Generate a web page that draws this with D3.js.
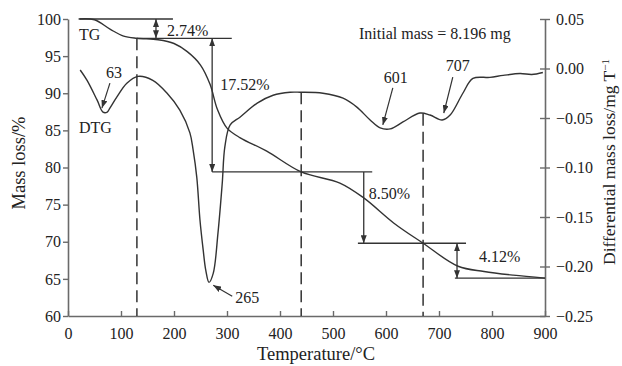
<!DOCTYPE html>
<html>
<head>
<meta charset="utf-8">
<script src="https://cdn.jsdelivr.net/npm/d3@7"></script>
<style>
  body { margin: 0; background: #fff; }
  svg text { font-family: "Liberation Serif", "DejaVu Serif", serif; fill: #222; }
</style>
</head>
<body>
<svg id="chart" width="622" height="366"></svg>
<script>
// TG curve: temperature (°C) vs mass loss (%)
var tgTemp = [20, 50, 80, 105, 130, 170, 200, 225, 250, 268, 282, 300, 325, 375, 440, 513, 558, 615, 670, 736, 785, 840, 900];
var tgMass = [100, 99.9, 98.6, 97.7, 97.4, 97.2, 96.7, 95.6, 93.8, 91.2, 87.8, 85.3, 84.0, 82.2, 79.4, 77.9, 75.9, 72.5, 69.8, 66.7, 66.0, 65.5, 65.1];

// DTG curve: temperature (°C) vs differential mass loss
var dtgTemp = [23, 36, 55, 66, 74, 79, 92, 111, 132, 160, 187, 211, 230, 236, 243, 249, 255, 260, 266, 274, 283, 291, 296, 306, 325, 357, 387, 419, 438, 481, 519, 545, 570, 589, 608, 632, 664, 683, 706, 721, 745, 764, 796, 821, 853, 875, 896];
var dtgVal = [-0.0015, -0.012, -0.032, -0.044, -0.044, -0.040, -0.029, -0.015, -0.008, -0.012, -0.025, -0.042, -0.065, -0.082, -0.110, -0.153, -0.183, -0.204, -0.216, -0.207, -0.166, -0.116, -0.079, -0.057, -0.049, -0.035, -0.027, -0.024, -0.024, -0.025, -0.030, -0.039, -0.052, -0.060, -0.061, -0.054, -0.045, -0.047, -0.052, -0.047, -0.025, -0.010, -0.009, -0.007, -0.005, -0.006, -0.004];

var xTicks = [0, 100, 200, 300, 400, 500, 600, 700, 800, 900];
var leftTicks = [60, 65, 70, 75, 80, 85, 90, 95, 100];
var rightTicks = [-0.25, -0.20, -0.15, -0.10, -0.05, 0.00, 0.05];

// dashed guide lines (temperature, which curve they reach up to)
var guideTemp = [130, 440, 670];
var guideTop = ["tg", "dtg", "dtg"];

// step lines on the TG scale
var stepLevel = [100, 97.4, 79.4, 69.8, 65.1];
var stepFrom = [22, 130, 272, 547, 730];
var stepTo = [198, 309, 574, 751, 900];

// mass loss arrows
var lossLabel = ["2.74%", "17.52%", "8.50%", "4.12%"];
var lossTemp = [166, 272, 558, 734];
var lossTop = [100, 97.4, 79.4, 69.8];
var lossBottom = [97.4, 79.4, 69.8, 65.1];
var lossBoth = [true, true, false, true];

// peak labels
var peakLabel = ["63", "265", "601", "707"];
var peakTemp = [64, 274, 594, 709];
var peakVal = [-0.040, -0.219, -0.057, -0.045];

var svg = d3.select("#chart");
var x = d3.scaleLinear().domain([0, 900]).range([68, 545]);
var yL = d3.scaleLinear().domain([60, 100]).range([316, 19]);
var yR = d3.scaleLinear().domain([-0.25, 0.05]).range([316, 19]);
var ink = "#333";
var axisInk = "#6a6a6a";
var serif = "'Liberation Serif', 'DejaVu Serif', serif";

var defs = svg.append("defs");
defs.append("marker")
    .attr("id", "head")
    .attr("viewBox", "0 0 8 6")
    .attr("refX", 8).attr("refY", 3)
    .attr("markerWidth", 8).attr("markerHeight", 6)
    .attr("markerUnits", "userSpaceOnUse")
    .attr("orient", "auto-start-reverse")
    .append("path").attr("d", "M0,0 L8,3 L0,6 z").attr("fill", ink);

// axes
var fmtR = function (d) { return d.toFixed(2).replace("-", "\u2212"); };

var gx = svg.append("g").attr("transform", "translate(0,316)")
    .call(d3.axisBottom(x).tickValues(xTicks).tickSizeInner(-5).tickSizeOuter(0).tickPadding(12));
var gl = svg.append("g").attr("transform", "translate(68,0)")
    .call(d3.axisLeft(yL).tickValues(leftTicks).tickSizeInner(5).tickSizeOuter(0).tickPadding(2));
var gr = svg.append("g").attr("transform", "translate(545,0)")
    .call(d3.axisRight(yR).tickValues(rightTicks).tickFormat(fmtR).tickSizeInner(5).tickSizeOuter(0).tickPadding(6));
gr.selectAll(".tick line").attr("x1", -5);

[gx, gl, gr].forEach(function (g) {
    g.attr("font-family", serif).attr("font-size", 16);
    g.select(".domain").attr("stroke", axisInk).attr("stroke-width", 1.6);
    g.selectAll(".tick line").attr("stroke", axisInk).attr("stroke-width", 1.4);
    g.selectAll(".tick text").attr("fill", "#222");
});

// axis titles
svg.append("text").attr("x", 316).attr("y", 360).attr("text-anchor", "middle")
    .attr("font-size", 18.5).text("Temperature/\u00b0C");
svg.append("text").attr("transform", "translate(25,163) rotate(-90)").attr("text-anchor", "middle")
    .attr("font-size", 18.5).text("Mass loss/%");
var rt = svg.append("text").attr("transform", "translate(615,162) rotate(-90)").attr("text-anchor", "middle")
    .attr("font-size", 17.5);
rt.append("tspan").text("Differential mass loss/mg T");
rt.append("tspan").attr("baseline-shift", "super").attr("font-size", 11).text("\u22121");

// dashed guides
var dtgAt = d3.scaleLinear().domain(dtgTemp).range(dtgVal);
var tgAt = d3.scaleLinear().domain(tgTemp).range(tgMass);
guideTemp.forEach(function (t, i) {
    var top = guideTop[i] === "tg" ? yL(tgAt(t)) : yR(dtgAt(t));
    svg.append("line")
        .attr("x1", x(t)).attr("x2", x(t))
        .attr("y1", top).attr("y2", 316)
        .attr("stroke", ink).attr("stroke-width", 1.5)
        .attr("stroke-dasharray", "12,6");
});

// step lines
stepLevel.forEach(function (v, i) {
    svg.append("line")
        .attr("x1", x(stepFrom[i])).attr("x2", x(stepTo[i]))
        .attr("y1", yL(v)).attr("y2", yL(v))
        .attr("stroke", ink).attr("stroke-width", 1.3);
});

// curves
var tgLine = d3.line()
    .x(function (d) { return x(d[0]); })
    .y(function (d) { return yL(d[1]); })
    .curve(d3.curveCatmullRom.alpha(0.5));
var dtgLine = d3.line()
    .x(function (d) { return x(d[0]); })
    .y(function (d) { return yR(d[1]); })
    .curve(d3.curveCatmullRom.alpha(0.5));

svg.append("path").datum(d3.zip(tgTemp, tgMass))
    .attr("d", tgLine).attr("fill", "none").attr("stroke", ink).attr("stroke-width", 1.4);
svg.append("path").datum(d3.zip(dtgTemp, dtgVal))
    .attr("d", dtgLine).attr("fill", "none").attr("stroke", ink).attr("stroke-width", 1.4);

// mass loss arrows and labels
var lossDx = [11, 8, 5, 22];
var lossY = [30, 84, 193, 256];
lossLabel.forEach(function (lab, i) {
    var a = svg.append("line")
        .attr("x1", x(lossTemp[i])).attr("x2", x(lossTemp[i]))
        .attr("y1", yL(lossTop[i])).attr("y2", yL(lossBottom[i]))
        .attr("stroke", ink).attr("stroke-width", 1.3)
        .attr("marker-end", "url(#head)");
    if (lossBoth[i]) a.attr("marker-start", "url(#head)");
    svg.append("text")
        .attr("x", x(lossTemp[i]) + lossDx[i])
        .attr("y", lossY[i]).attr("dy", "0.35em")
        .attr("font-size", 16).text(lab);
});

// peak pointers
var tailDx = [8, 19, 10, 9];
var tailDy = [-25, 11, -37, -36];
var textDx = [12, 22, 13, 14];
var textDy = [-36, 12, -48, -48];
var textAnchor = ["middle", "start", "middle", "middle"];
peakLabel.forEach(function (lab, i) {
    var px = x(peakTemp[i]), py = yR(peakVal[i]);
    svg.append("line")
        .attr("x1", px + tailDx[i]).attr("y1", py + tailDy[i])
        .attr("x2", px).attr("y2", py)
        .attr("stroke", ink).attr("stroke-width", 1.2)
        .attr("marker-end", "url(#head)");
    svg.append("text")
        .attr("x", px + textDx[i]).attr("y", py + textDy[i]).attr("dy", "0.35em")
        .attr("text-anchor", textAnchor[i])
        .attr("font-size", 16).text(lab);
});

// curve names and note
svg.append("text").attr("x", 79).attr("y", 34).attr("dy", "0.35em").attr("font-size", 16).text("TG");
svg.append("text").attr("x", 79).attr("y", 127).attr("dy", "0.35em").attr("font-size", 16).text("DTG");
svg.append("text").attr("x", 359).attr("y", 33).attr("dy", "0.35em").attr("font-size", 16)
    .text("Initial mass = 8.196 mg");
</script>
</body>
</html>
